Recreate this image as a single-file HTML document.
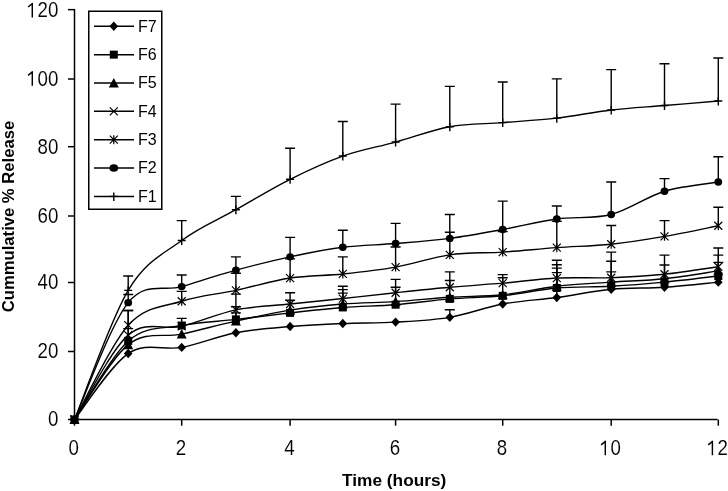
<!DOCTYPE html>
<html><head><meta charset="utf-8"><title>Chart</title>
<style>html,body{margin:0;padding:0;background:#fff;width:728px;height:491px;overflow:hidden}svg{display:block;will-change:transform}</style>
</head><body>
<svg width="728" height="491" viewBox="0 0 728 491">
<style>
.tl{font-family:"Liberation Sans",sans-serif;font-size:21.5px;fill:#000;stroke:#fff;stroke-width:0.1px}
.ti{font-family:"Liberation Sans",sans-serif;font-size:16px;font-weight:bold;fill:#000}
.lg{font-family:"Liberation Sans",sans-serif;font-size:16px;fill:#000}
</style>
<rect width="728" height="491" fill="#fff"/>
<path d="M128.20,290.35 L128.20,276.00 M123.20,276.00 L133.20,276.00" stroke="#000" stroke-width="1.4" fill="none"/>
<path d="M181.70,240.46 L181.70,220.65 M176.70,220.65 L186.70,220.65" stroke="#000" stroke-width="1.4" fill="none"/>
<path d="M235.90,209.71 L235.90,196.39 M230.90,196.39 L240.90,196.39" stroke="#000" stroke-width="1.4" fill="none"/>
<path d="M290.10,179.31 L290.10,148.21 M285.10,148.21 L295.10,148.21" stroke="#000" stroke-width="1.4" fill="none"/>
<path d="M342.80,156.07 L342.80,121.56 M337.80,121.56 L347.80,121.56" stroke="#000" stroke-width="1.4" fill="none"/>
<path d="M395.60,142.06 L395.60,104.14 M390.60,104.14 L400.60,104.14" stroke="#000" stroke-width="1.4" fill="none"/>
<path d="M449.80,126.69 L449.80,86.37 M444.80,86.37 L454.80,86.37" stroke="#000" stroke-width="1.4" fill="none"/>
<path d="M502.70,122.59 L502.70,81.93 M497.70,81.93 L507.70,81.93" stroke="#000" stroke-width="1.4" fill="none"/>
<path d="M556.80,118.15 L556.80,78.86 M551.80,78.86 L561.80,78.86" stroke="#000" stroke-width="1.4" fill="none"/>
<path d="M611.20,109.95 L611.20,69.63 M606.20,69.63 L616.20,69.63" stroke="#000" stroke-width="1.4" fill="none"/>
<path d="M664.50,105.51 L664.50,63.82 M659.50,63.82 L669.50,63.82" stroke="#000" stroke-width="1.4" fill="none"/>
<path d="M718.30,101.06 L718.30,58.01 M713.30,58.01 L723.30,58.01" stroke="#000" stroke-width="1.4" fill="none"/>
<path d="M128.20,302.65 L128.20,294.45 M123.20,294.45 L133.20,294.45" stroke="#000" stroke-width="1.4" fill="none"/>
<path d="M181.70,286.59 L181.70,274.97 M176.70,274.97 L186.70,274.97" stroke="#000" stroke-width="1.4" fill="none"/>
<path d="M235.90,270.19 L235.90,256.87 M230.90,256.87 L240.90,256.87" stroke="#000" stroke-width="1.4" fill="none"/>
<path d="M290.10,256.87 L290.10,237.39 M285.10,237.39 L295.10,237.39" stroke="#000" stroke-width="1.4" fill="none"/>
<path d="M342.80,247.30 L342.80,230.21 M337.80,230.21 L347.80,230.21" stroke="#000" stroke-width="1.4" fill="none"/>
<path d="M395.60,243.54 L395.60,223.38 M390.60,223.38 L400.60,223.38" stroke="#000" stroke-width="1.4" fill="none"/>
<path d="M449.80,238.41 L449.80,214.50 M444.80,214.50 L454.80,214.50" stroke="#000" stroke-width="1.4" fill="none"/>
<path d="M502.70,229.53 L502.70,201.17 M497.70,201.17 L507.70,201.17" stroke="#000" stroke-width="1.4" fill="none"/>
<path d="M556.80,218.94 L556.80,205.96 M551.80,205.96 L561.80,205.96" stroke="#000" stroke-width="1.4" fill="none"/>
<path d="M611.20,214.50 L611.20,182.04 M606.20,182.04 L616.20,182.04" stroke="#000" stroke-width="1.4" fill="none"/>
<path d="M664.50,191.26 L664.50,178.62 M659.50,178.62 L669.50,178.62" stroke="#000" stroke-width="1.4" fill="none"/>
<path d="M718.30,182.04 L718.30,156.76 M713.30,156.76 L723.30,156.76" stroke="#000" stroke-width="1.4" fill="none"/>
<path d="M128.20,325.20 L128.20,310.51 M123.20,310.51 L133.20,310.51" stroke="#000" stroke-width="1.4" fill="none"/>
<path d="M181.70,301.28 L181.70,291.37 M176.70,291.37 L186.70,291.37" stroke="#000" stroke-width="1.4" fill="none"/>
<path d="M235.90,290.35 L235.90,273.27 M230.90,273.27 L240.90,273.27" stroke="#000" stroke-width="1.4" fill="none"/>
<path d="M290.10,278.05 L290.10,258.92 M285.10,258.92 L295.10,258.92" stroke="#000" stroke-width="1.4" fill="none"/>
<path d="M342.80,273.95 L342.80,256.87 M337.80,256.87 L347.80,256.87" stroke="#000" stroke-width="1.4" fill="none"/>
<path d="M395.60,267.12 L395.60,246.96 M390.60,246.96 L400.60,246.96" stroke="#000" stroke-width="1.4" fill="none"/>
<path d="M449.80,254.82 L449.80,232.26 M444.80,232.26 L454.80,232.26" stroke="#000" stroke-width="1.4" fill="none"/>
<path d="M502.70,252.08 L502.70,231.58 M497.70,231.58 L507.70,231.58" stroke="#000" stroke-width="1.4" fill="none"/>
<path d="M556.80,247.64 L556.80,221.33 M551.80,221.33 L561.80,221.33" stroke="#000" stroke-width="1.4" fill="none"/>
<path d="M611.20,244.22 L611.20,225.43 M606.20,225.43 L616.20,225.43" stroke="#000" stroke-width="1.4" fill="none"/>
<path d="M664.50,236.36 L664.50,220.65 M659.50,220.65 L669.50,220.65" stroke="#000" stroke-width="1.4" fill="none"/>
<path d="M718.30,225.77 L718.30,207.32 M713.30,207.32 L723.30,207.32" stroke="#000" stroke-width="1.4" fill="none"/>
<path d="M128.20,335.11 L128.20,310.51 M123.20,310.51 L133.20,310.51" stroke="#000" stroke-width="1.4" fill="none"/>
<path d="M128.20,340.92 L128.20,328.62 M123.20,328.62 L133.20,328.62" stroke="#000" stroke-width="1.4" fill="none"/>
<path d="M181.70,325.54 L181.70,318.37 M176.70,318.37 L186.70,318.37" stroke="#000" stroke-width="1.4" fill="none"/>
<path d="M235.90,309.82 L235.90,294.11 M230.90,294.11 L240.90,294.11" stroke="#000" stroke-width="1.4" fill="none"/>
<path d="M235.90,319.39 L235.90,306.75 M230.90,306.75 L240.90,306.75" stroke="#000" stroke-width="1.4" fill="none"/>
<path d="M235.90,321.10 L235.90,312.90 M230.90,312.90 L240.90,312.90" stroke="#000" stroke-width="1.4" fill="none"/>
<path d="M290.10,304.02 L290.10,292.74 M285.10,292.74 L295.10,292.74" stroke="#000" stroke-width="1.4" fill="none"/>
<path d="M290.10,312.90 L290.10,300.26 M285.10,300.26 L295.10,300.26" stroke="#000" stroke-width="1.4" fill="none"/>
<path d="M342.80,298.55 L342.80,286.25 M337.80,286.25 L347.80,286.25" stroke="#000" stroke-width="1.4" fill="none"/>
<path d="M342.80,304.02 L342.80,289.67 M337.80,289.67 L347.80,289.67" stroke="#000" stroke-width="1.4" fill="none"/>
<path d="M342.80,307.43 L342.80,293.08 M337.80,293.08 L347.80,293.08" stroke="#000" stroke-width="1.4" fill="none"/>
<path d="M395.60,292.74 L395.60,279.42 M390.60,279.42 L400.60,279.42" stroke="#000" stroke-width="1.4" fill="none"/>
<path d="M395.60,304.70 L395.60,287.27 M390.60,287.27 L400.60,287.27" stroke="#000" stroke-width="1.4" fill="none"/>
<path d="M449.80,287.27 L449.80,271.90 M444.80,271.90 L454.80,271.90" stroke="#000" stroke-width="1.4" fill="none"/>
<path d="M449.80,297.18 L449.80,280.44 M444.80,280.44 L454.80,280.44" stroke="#000" stroke-width="1.4" fill="none"/>
<path d="M449.80,317.34 L449.80,309.82 M444.80,309.82 L454.80,309.82" stroke="#000" stroke-width="1.4" fill="none"/>
<path d="M502.70,283.17 L502.70,274.63 M497.70,274.63 L507.70,274.63" stroke="#000" stroke-width="1.4" fill="none"/>
<path d="M502.70,295.82 L502.70,277.71 M497.70,277.71 L507.70,277.71" stroke="#000" stroke-width="1.4" fill="none"/>
<path d="M556.80,278.05 L556.80,260.28 M551.80,260.28 L561.80,260.28" stroke="#000" stroke-width="1.4" fill="none"/>
<path d="M556.80,286.25 L556.80,264.72 M551.80,264.72 L561.80,264.72" stroke="#000" stroke-width="1.4" fill="none"/>
<path d="M556.80,287.96 L556.80,268.14 M551.80,268.14 L561.80,268.14" stroke="#000" stroke-width="1.4" fill="none"/>
<path d="M556.80,297.52 L556.80,272.58 M551.80,272.58 L561.80,272.58" stroke="#000" stroke-width="1.4" fill="none"/>
<path d="M611.20,277.71 L611.20,252.08 M606.20,252.08 L616.20,252.08" stroke="#000" stroke-width="1.4" fill="none"/>
<path d="M611.20,282.15 L611.20,261.31 M606.20,261.31 L616.20,261.31" stroke="#000" stroke-width="1.4" fill="none"/>
<path d="M611.20,286.25 L611.20,271.90 M606.20,271.90 L616.20,271.90" stroke="#000" stroke-width="1.4" fill="none"/>
<path d="M664.50,274.29 L664.50,255.16 M659.50,255.16 L669.50,255.16" stroke="#000" stroke-width="1.4" fill="none"/>
<path d="M664.50,278.73 L664.50,265.07 M659.50,265.07 L669.50,265.07" stroke="#000" stroke-width="1.4" fill="none"/>
<path d="M718.30,266.77 L718.30,247.98 M713.30,247.98 L723.30,247.98" stroke="#000" stroke-width="1.4" fill="none"/>
<path d="M718.30,270.87 L718.30,255.16 M713.30,255.16 L723.30,255.16" stroke="#000" stroke-width="1.4" fill="none"/>
<path d="M718.30,276.00 L718.30,262.33 M713.30,262.33 L723.30,262.33" stroke="#000" stroke-width="1.4" fill="none"/>
<path d="M74.50,419.50 C83.45,397.97 110.33,320.19 128.20,290.35 C146.07,260.51 163.75,253.90 181.70,240.46 C199.65,227.03 217.83,219.91 235.90,209.71 C253.97,199.52 272.28,188.25 290.10,179.31 C307.92,170.37 325.22,162.28 342.80,156.07 C360.38,149.87 377.77,146.96 395.60,142.06 C413.43,137.17 431.95,129.93 449.80,126.69 C467.65,123.44 484.87,124.01 502.70,122.59 C520.53,121.17 538.72,120.25 556.80,118.15 C574.88,116.04 593.25,112.05 611.20,109.95 C629.15,107.84 646.65,106.99 664.50,105.51 C682.35,104.02 709.33,101.80 718.30,101.06" stroke="#000" stroke-width="1.4" fill="none"/>
<path d="M74.50,419.50 C83.45,400.02 110.33,324.80 128.20,302.65 C146.07,280.50 163.75,292.00 181.70,286.59 C199.65,281.18 217.83,275.14 235.90,270.19 C253.97,265.24 272.28,260.68 290.10,256.87 C307.92,253.05 325.22,249.52 342.80,247.30 C360.38,245.08 377.77,245.02 395.60,243.54 C413.43,242.06 431.95,240.75 449.80,238.41 C467.65,236.08 484.87,232.78 502.70,229.53 C520.53,226.29 538.72,221.45 556.80,218.94 C574.88,216.43 593.25,219.11 611.20,214.50 C629.15,209.89 646.65,196.67 664.50,191.26 C682.35,185.85 709.33,183.58 718.30,182.04" stroke="#000" stroke-width="1.4" fill="none"/>
<path d="M74.50,419.50 C83.45,403.78 110.33,344.90 128.20,325.20 C146.07,305.50 163.75,307.09 181.70,301.28 C199.65,295.47 217.83,294.22 235.90,290.35 C253.97,286.48 272.28,280.78 290.10,278.05 C307.92,275.32 325.22,275.77 342.80,273.95 C360.38,272.13 377.77,270.30 395.60,267.12 C413.43,263.93 431.95,257.32 449.80,254.82 C467.65,252.31 484.87,253.28 502.70,252.08 C520.53,250.89 538.72,248.95 556.80,247.64 C574.88,246.33 593.25,246.10 611.20,244.22 C629.15,242.34 646.65,239.44 664.50,236.36 C682.35,233.29 709.33,227.54 718.30,225.77" stroke="#000" stroke-width="1.4" fill="none"/>
<path d="M74.50,419.50 C83.45,405.43 110.33,350.65 128.20,335.11 C146.07,319.56 163.75,330.44 181.70,326.22 C199.65,322.01 217.83,313.53 235.90,309.82 C253.97,306.12 272.28,305.89 290.10,304.02 C307.92,302.14 325.22,300.43 342.80,298.55 C360.38,296.67 377.77,294.62 395.60,292.74 C413.43,290.86 431.95,288.87 449.80,287.27 C467.65,285.68 484.87,284.71 502.70,283.17 C520.53,281.64 538.72,278.96 556.80,278.05 C574.88,277.14 593.25,278.33 611.20,277.71 C629.15,277.08 646.65,276.11 664.50,274.29 C682.35,272.47 709.33,268.03 718.30,266.77" stroke="#000" stroke-width="1.4" fill="none"/>
<path d="M74.50,419.50 C83.45,407.03 110.33,358.91 128.20,344.67 C146.07,330.44 163.75,338.01 181.70,334.08 C199.65,330.15 217.83,325.09 235.90,321.10 C253.97,317.11 272.28,313.01 290.10,310.17 C307.92,307.32 325.22,305.44 342.80,304.02 C360.38,302.59 377.77,302.76 395.60,301.62 C413.43,300.48 431.95,298.32 449.80,297.18 C467.65,296.04 484.87,296.61 502.70,294.79 C520.53,292.97 538.72,288.36 556.80,286.25 C574.88,284.14 593.25,283.40 611.20,282.15 C629.15,280.90 646.65,280.61 664.50,278.73 C682.35,276.85 709.33,272.18 718.30,270.87" stroke="#000" stroke-width="1.4" fill="none"/>
<path d="M74.50,419.50 C83.45,406.40 110.33,356.58 128.20,340.92 C146.07,325.26 163.75,329.13 181.70,325.54 C199.65,321.95 217.83,321.50 235.90,319.39 C253.97,317.28 272.28,314.89 290.10,312.90 C307.92,310.91 325.22,308.80 342.80,307.43 C360.38,306.07 377.77,306.12 395.60,304.70 C413.43,303.28 431.95,300.37 449.80,298.89 C467.65,297.41 484.87,297.64 502.70,295.82 C520.53,293.99 538.72,289.55 556.80,287.96 C574.88,286.36 593.25,287.22 611.20,286.25 C629.15,285.28 646.65,283.86 664.50,282.15 C682.35,280.44 709.33,277.02 718.30,276.00" stroke="#000" stroke-width="1.4" fill="none"/>
<path d="M74.50,419.50 C83.45,408.51 110.33,365.57 128.20,353.56 C146.07,341.54 163.75,350.88 181.70,347.41 C199.65,343.93 217.83,336.19 235.90,332.72 C253.97,329.24 272.28,328.10 290.10,326.57 C307.92,325.03 325.22,324.23 342.80,323.49 C360.38,322.75 377.77,323.15 395.60,322.12 C413.43,321.10 431.95,320.36 449.80,317.34 C467.65,314.32 484.87,307.32 502.70,304.02 C520.53,300.71 538.72,299.97 556.80,297.52 C574.88,295.08 593.25,291.03 611.20,289.32 C629.15,287.62 646.65,288.47 664.50,287.27 C682.35,286.08 709.33,283.00 718.30,282.15" stroke="#000" stroke-width="1.4" fill="none"/>
<path d="M70.50,419.50 L78.50,419.50 M74.50,415.50 L74.50,424.00" stroke="#000" stroke-width="1.4" fill="none"/>
<path d="M124.20,290.35 L132.20,290.35 M128.20,286.35 L128.20,294.85" stroke="#000" stroke-width="1.4" fill="none"/>
<path d="M177.70,240.46 L185.70,240.46 M181.70,236.46 L181.70,244.96" stroke="#000" stroke-width="1.4" fill="none"/>
<path d="M231.90,209.71 L239.90,209.71 M235.90,205.71 L235.90,214.21" stroke="#000" stroke-width="1.4" fill="none"/>
<path d="M286.10,179.31 L294.10,179.31 M290.10,175.31 L290.10,183.81" stroke="#000" stroke-width="1.4" fill="none"/>
<path d="M338.80,156.07 L346.80,156.07 M342.80,152.07 L342.80,160.57" stroke="#000" stroke-width="1.4" fill="none"/>
<path d="M391.60,142.06 L399.60,142.06 M395.60,138.06 L395.60,146.56" stroke="#000" stroke-width="1.4" fill="none"/>
<path d="M445.80,126.69 L453.80,126.69 M449.80,122.69 L449.80,131.19" stroke="#000" stroke-width="1.4" fill="none"/>
<path d="M498.70,122.59 L506.70,122.59 M502.70,118.59 L502.70,127.09" stroke="#000" stroke-width="1.4" fill="none"/>
<path d="M552.80,118.15 L560.80,118.15 M556.80,114.15 L556.80,122.65" stroke="#000" stroke-width="1.4" fill="none"/>
<path d="M607.20,109.95 L615.20,109.95 M611.20,105.95 L611.20,114.45" stroke="#000" stroke-width="1.4" fill="none"/>
<path d="M660.50,105.51 L668.50,105.51 M664.50,101.51 L664.50,110.01" stroke="#000" stroke-width="1.4" fill="none"/>
<path d="M714.30,101.06 L722.30,101.06 M718.30,97.06 L718.30,105.56" stroke="#000" stroke-width="1.4" fill="none"/>
<ellipse cx="74.50" cy="419.50" rx="3.9" ry="3.7" fill="#000"/>
<ellipse cx="128.20" cy="302.65" rx="3.9" ry="3.7" fill="#000"/>
<ellipse cx="181.70" cy="286.59" rx="3.9" ry="3.7" fill="#000"/>
<ellipse cx="235.90" cy="270.19" rx="3.9" ry="3.7" fill="#000"/>
<ellipse cx="290.10" cy="256.87" rx="3.9" ry="3.7" fill="#000"/>
<ellipse cx="342.80" cy="247.30" rx="3.9" ry="3.7" fill="#000"/>
<ellipse cx="395.60" cy="243.54" rx="3.9" ry="3.7" fill="#000"/>
<ellipse cx="449.80" cy="238.41" rx="3.9" ry="3.7" fill="#000"/>
<ellipse cx="502.70" cy="229.53" rx="3.9" ry="3.7" fill="#000"/>
<ellipse cx="556.80" cy="218.94" rx="3.9" ry="3.7" fill="#000"/>
<ellipse cx="611.20" cy="214.50" rx="3.9" ry="3.7" fill="#000"/>
<ellipse cx="664.50" cy="191.26" rx="3.9" ry="3.7" fill="#000"/>
<ellipse cx="718.30" cy="182.04" rx="3.9" ry="3.7" fill="#000"/>
<path d="M70.50,415.50 L78.50,423.50 M70.50,423.50 L78.50,415.50 M74.50,415.00 L74.50,424.00" stroke="#000" stroke-width="1.2" fill="none"/>
<path d="M124.20,321.20 L132.20,329.20 M124.20,329.20 L132.20,321.20 M128.20,320.70 L128.20,329.70" stroke="#000" stroke-width="1.2" fill="none"/>
<path d="M177.70,297.28 L185.70,305.28 M177.70,305.28 L185.70,297.28 M181.70,296.78 L181.70,305.78" stroke="#000" stroke-width="1.2" fill="none"/>
<path d="M231.90,286.35 L239.90,294.35 M231.90,294.35 L239.90,286.35 M235.90,285.85 L235.90,294.85" stroke="#000" stroke-width="1.2" fill="none"/>
<path d="M286.10,274.05 L294.10,282.05 M286.10,282.05 L294.10,274.05 M290.10,273.55 L290.10,282.55" stroke="#000" stroke-width="1.2" fill="none"/>
<path d="M338.80,269.95 L346.80,277.95 M338.80,277.95 L346.80,269.95 M342.80,269.45 L342.80,278.45" stroke="#000" stroke-width="1.2" fill="none"/>
<path d="M391.60,263.12 L399.60,271.12 M391.60,271.12 L399.60,263.12 M395.60,262.62 L395.60,271.62" stroke="#000" stroke-width="1.2" fill="none"/>
<path d="M445.80,250.82 L453.80,258.82 M445.80,258.82 L453.80,250.82 M449.80,250.32 L449.80,259.32" stroke="#000" stroke-width="1.2" fill="none"/>
<path d="M498.70,248.08 L506.70,256.08 M498.70,256.08 L506.70,248.08 M502.70,247.58 L502.70,256.58" stroke="#000" stroke-width="1.2" fill="none"/>
<path d="M552.80,243.64 L560.80,251.64 M552.80,251.64 L560.80,243.64 M556.80,243.14 L556.80,252.14" stroke="#000" stroke-width="1.2" fill="none"/>
<path d="M607.20,240.22 L615.20,248.22 M607.20,248.22 L615.20,240.22 M611.20,239.72 L611.20,248.72" stroke="#000" stroke-width="1.2" fill="none"/>
<path d="M660.50,232.36 L668.50,240.36 M660.50,240.36 L668.50,232.36 M664.50,231.86 L664.50,240.86" stroke="#000" stroke-width="1.2" fill="none"/>
<path d="M714.30,221.77 L722.30,229.77 M714.30,229.77 L722.30,221.77 M718.30,221.27 L718.30,230.27" stroke="#000" stroke-width="1.2" fill="none"/>
<path d="M70.50,415.50 L78.50,423.50 M70.50,423.50 L78.50,415.50" stroke="#000" stroke-width="1.2" fill="none"/>
<path d="M124.20,331.11 L132.20,339.11 M124.20,339.11 L132.20,331.11" stroke="#000" stroke-width="1.2" fill="none"/>
<path d="M177.70,322.22 L185.70,330.22 M177.70,330.22 L185.70,322.22" stroke="#000" stroke-width="1.2" fill="none"/>
<path d="M231.90,305.82 L239.90,313.82 M231.90,313.82 L239.90,305.82" stroke="#000" stroke-width="1.2" fill="none"/>
<path d="M286.10,300.02 L294.10,308.02 M286.10,308.02 L294.10,300.02" stroke="#000" stroke-width="1.2" fill="none"/>
<path d="M338.80,294.55 L346.80,302.55 M338.80,302.55 L346.80,294.55" stroke="#000" stroke-width="1.2" fill="none"/>
<path d="M391.60,288.74 L399.60,296.74 M391.60,296.74 L399.60,288.74" stroke="#000" stroke-width="1.2" fill="none"/>
<path d="M445.80,283.27 L453.80,291.27 M445.80,291.27 L453.80,283.27" stroke="#000" stroke-width="1.2" fill="none"/>
<path d="M498.70,279.17 L506.70,287.17 M498.70,287.17 L506.70,279.17" stroke="#000" stroke-width="1.2" fill="none"/>
<path d="M552.80,274.05 L560.80,282.05 M552.80,282.05 L560.80,274.05" stroke="#000" stroke-width="1.2" fill="none"/>
<path d="M607.20,273.71 L615.20,281.71 M607.20,281.71 L615.20,273.71" stroke="#000" stroke-width="1.2" fill="none"/>
<path d="M660.50,270.29 L668.50,278.29 M660.50,278.29 L668.50,270.29" stroke="#000" stroke-width="1.2" fill="none"/>
<path d="M714.30,262.77 L722.30,270.77 M714.30,270.77 L722.30,262.77" stroke="#000" stroke-width="1.2" fill="none"/>
<path d="M74.50,414.50 L79.50,424.00 L69.50,424.00 Z" fill="#000"/>
<path d="M128.20,339.67 L133.20,349.17 L123.20,349.17 Z" fill="#000"/>
<path d="M181.70,329.08 L186.70,338.58 L176.70,338.58 Z" fill="#000"/>
<path d="M235.90,316.10 L240.90,325.60 L230.90,325.60 Z" fill="#000"/>
<path d="M290.10,305.17 L295.10,314.67 L285.10,314.67 Z" fill="#000"/>
<path d="M342.80,299.02 L347.80,308.52 L337.80,308.52 Z" fill="#000"/>
<path d="M395.60,296.62 L400.60,306.12 L390.60,306.12 Z" fill="#000"/>
<path d="M449.80,292.18 L454.80,301.68 L444.80,301.68 Z" fill="#000"/>
<path d="M502.70,289.79 L507.70,299.29 L497.70,299.29 Z" fill="#000"/>
<path d="M556.80,281.25 L561.80,290.75 L551.80,290.75 Z" fill="#000"/>
<path d="M611.20,277.15 L616.20,286.65 L606.20,286.65 Z" fill="#000"/>
<path d="M664.50,273.73 L669.50,283.23 L659.50,283.23 Z" fill="#000"/>
<path d="M718.30,265.87 L723.30,275.37 L713.30,275.37 Z" fill="#000"/>
<rect x="70.50" y="415.50" width="8" height="8" fill="#000"/>
<rect x="124.20" y="336.92" width="8" height="8" fill="#000"/>
<rect x="177.70" y="321.54" width="8" height="8" fill="#000"/>
<rect x="231.90" y="315.39" width="8" height="8" fill="#000"/>
<rect x="286.10" y="308.90" width="8" height="8" fill="#000"/>
<rect x="338.80" y="303.43" width="8" height="8" fill="#000"/>
<rect x="391.60" y="300.70" width="8" height="8" fill="#000"/>
<rect x="445.80" y="294.89" width="8" height="8" fill="#000"/>
<rect x="498.70" y="291.82" width="8" height="8" fill="#000"/>
<rect x="552.80" y="283.96" width="8" height="8" fill="#000"/>
<rect x="607.20" y="282.25" width="8" height="8" fill="#000"/>
<rect x="660.50" y="278.15" width="8" height="8" fill="#000"/>
<rect x="714.30" y="272.00" width="8" height="8" fill="#000"/>
<path d="M74.50,414.80 L78.82,419.50 L74.50,424.20 L70.18,419.50 Z" fill="#000"/>
<path d="M128.20,348.86 L132.52,353.56 L128.20,358.26 L123.88,353.56 Z" fill="#000"/>
<path d="M181.70,342.71 L186.02,347.41 L181.70,352.11 L177.38,347.41 Z" fill="#000"/>
<path d="M235.90,328.02 L240.22,332.72 L235.90,337.42 L231.58,332.72 Z" fill="#000"/>
<path d="M290.10,321.87 L294.42,326.57 L290.10,331.27 L285.78,326.57 Z" fill="#000"/>
<path d="M342.80,318.79 L347.12,323.49 L342.80,328.19 L338.48,323.49 Z" fill="#000"/>
<path d="M395.60,317.42 L399.92,322.12 L395.60,326.82 L391.28,322.12 Z" fill="#000"/>
<path d="M449.80,312.64 L454.12,317.34 L449.80,322.04 L445.48,317.34 Z" fill="#000"/>
<path d="M502.70,299.32 L507.02,304.02 L502.70,308.72 L498.38,304.02 Z" fill="#000"/>
<path d="M556.80,292.82 L561.12,297.52 L556.80,302.22 L552.48,297.52 Z" fill="#000"/>
<path d="M611.20,284.62 L615.52,289.32 L611.20,294.02 L606.88,289.32 Z" fill="#000"/>
<path d="M664.50,282.57 L668.82,287.27 L664.50,291.97 L660.18,287.27 Z" fill="#000"/>
<path d="M718.30,277.45 L722.62,282.15 L718.30,286.85 L713.98,282.15 Z" fill="#000"/>
<path d="M74.5,9 L74.5,420 M74,419.5 L717.5,419.5" stroke="#000" stroke-width="1.5" fill="none"/>
<path d="M68,419.50 L74.5,419.50" stroke="#000" stroke-width="1.5"/>
<path d="M68,351.50 L74.5,351.50" stroke="#000" stroke-width="1.5"/>
<path d="M68,282.50 L74.5,282.50" stroke="#000" stroke-width="1.5"/>
<path d="M68,216.00 L74.5,216.00" stroke="#000" stroke-width="1.5"/>
<path d="M68,146.70 L74.5,146.70" stroke="#000" stroke-width="1.5"/>
<path d="M68,79.00 L74.5,79.00" stroke="#000" stroke-width="1.5"/>
<path d="M68,9.65 L74.5,9.65" stroke="#000" stroke-width="1.5"/>
<path d="M74.50,419.5 L74.50,425.7" stroke="#000" stroke-width="1.5"/>
<path d="M181.70,419.5 L181.70,425.7" stroke="#000" stroke-width="1.5"/>
<path d="M290.10,419.5 L290.10,425.7" stroke="#000" stroke-width="1.5"/>
<path d="M395.60,419.5 L395.60,425.7" stroke="#000" stroke-width="1.5"/>
<path d="M502.70,419.5 L502.70,425.7" stroke="#000" stroke-width="1.5"/>
<path d="M611.20,419.5 L611.20,425.7" stroke="#000" stroke-width="1.5"/>
<path d="M718.30,419.5 L718.30,425.7" stroke="#000" stroke-width="1.5"/>
<rect x="88.75" y="11.25" width="73" height="198" fill="#fff" stroke="#000" stroke-width="1.5"/>
<path d="M94,26.30 L134,26.30" stroke="#000" stroke-width="1.5"/>
<path d="M113.80,21.60 L118.12,26.30 L113.80,31.00 L109.48,26.30 Z" fill="#000"/>
<text x="138" y="31.50" class="lg">F7</text>
<path d="M94,54.65 L134,54.65" stroke="#000" stroke-width="1.5"/>
<rect x="109.80" y="50.65" width="8" height="8" fill="#000"/>
<text x="138" y="59.85" class="lg">F6</text>
<path d="M94,83.00 L134,83.00" stroke="#000" stroke-width="1.5"/>
<path d="M113.80,78.00 L118.80,87.50 L108.80,87.50 Z" fill="#000"/>
<text x="138" y="88.20" class="lg">F5</text>
<path d="M94,111.35 L134,111.35" stroke="#000" stroke-width="1.5"/>
<path d="M109.80,107.35 L117.80,115.35 M109.80,115.35 L117.80,107.35" stroke="#000" stroke-width="1.2" fill="none"/>
<text x="138" y="116.55" class="lg">F4</text>
<path d="M94,139.70 L134,139.70" stroke="#000" stroke-width="1.5"/>
<path d="M109.80,135.70 L117.80,143.70 M109.80,143.70 L117.80,135.70 M113.80,135.20 L113.80,144.20" stroke="#000" stroke-width="1.2" fill="none"/>
<text x="138" y="144.90" class="lg">F3</text>
<path d="M94,168.05 L134,168.05" stroke="#000" stroke-width="1.5"/>
<ellipse cx="113.80" cy="168.05" rx="4.4" ry="3.8" fill="#000"/>
<text x="138" y="173.25" class="lg">F2</text>
<path d="M94,196.40 L134,196.40" stroke="#000" stroke-width="1.5"/>
<path d="M109.80,196.40 L117.80,196.40 M113.80,192.40 L113.80,200.90" stroke="#000" stroke-width="1.4" fill="none"/>
<text x="138" y="201.60" class="lg">F1</text>
<text transform="translate(58.30,426.30) scale(0.870,1)" class="tl" text-anchor="end">0</text>
<text transform="translate(58.30,358.30) scale(0.870,1)" class="tl" text-anchor="end">20</text>
<text transform="translate(58.30,289.30) scale(0.870,1)" class="tl" text-anchor="end">40</text>
<text transform="translate(58.30,222.80) scale(0.870,1)" class="tl" text-anchor="end">60</text>
<text transform="translate(58.30,153.50) scale(0.870,1)" class="tl" text-anchor="end">80</text>
<text transform="translate(58.30,85.80) scale(0.870,1)" class="tl" text-anchor="end">&#8199;00</text>
<path d="M32.29,85.80 L32.29,71.30 M32.69,71.60 L28.09,75.40" stroke="#000" stroke-width="1.45" fill="none"/>
<text transform="translate(58.30,17.45) scale(0.870,1)" class="tl" text-anchor="end">&#8199;20</text>
<path d="M32.29,17.45 L32.29,2.95 M32.69,3.25 L28.09,7.05" stroke="#000" stroke-width="1.45" fill="none"/>
<text transform="translate(73.80,455.30) scale(0.870,1)" class="tl" text-anchor="middle">0</text>
<text transform="translate(181.00,455.30) scale(0.870,1)" class="tl" text-anchor="middle">2</text>
<text transform="translate(289.40,455.30) scale(0.870,1)" class="tl" text-anchor="middle">4</text>
<text transform="translate(394.90,455.30) scale(0.870,1)" class="tl" text-anchor="middle">6</text>
<text transform="translate(502.00,455.30) scale(0.870,1)" class="tl" text-anchor="middle">8</text>
<text transform="translate(610.50,455.30) scale(0.870,1)" class="tl" text-anchor="middle">&#8199;0</text>
<path d="M605.30,455.30 L605.30,440.80 M605.70,441.10 L601.10,444.90" stroke="#000" stroke-width="1.45" fill="none"/>
<text transform="translate(717.60,455.30) scale(0.870,1)" class="tl" text-anchor="middle">&#8199;2</text>
<path d="M712.40,455.30 L712.40,440.80 M712.80,441.10 L708.20,444.90" stroke="#000" stroke-width="1.45" fill="none"/>
<text transform="translate(394.2,485.6) scale(1.08,1)" class="ti" text-anchor="middle">Time (hours)</text>
<text transform="translate(13.8,216.5) rotate(-90) scale(1.04,1)" x="0" y="0" class="ti" text-anchor="middle">Cummulative % Release</text>
</svg>
</body></html>
